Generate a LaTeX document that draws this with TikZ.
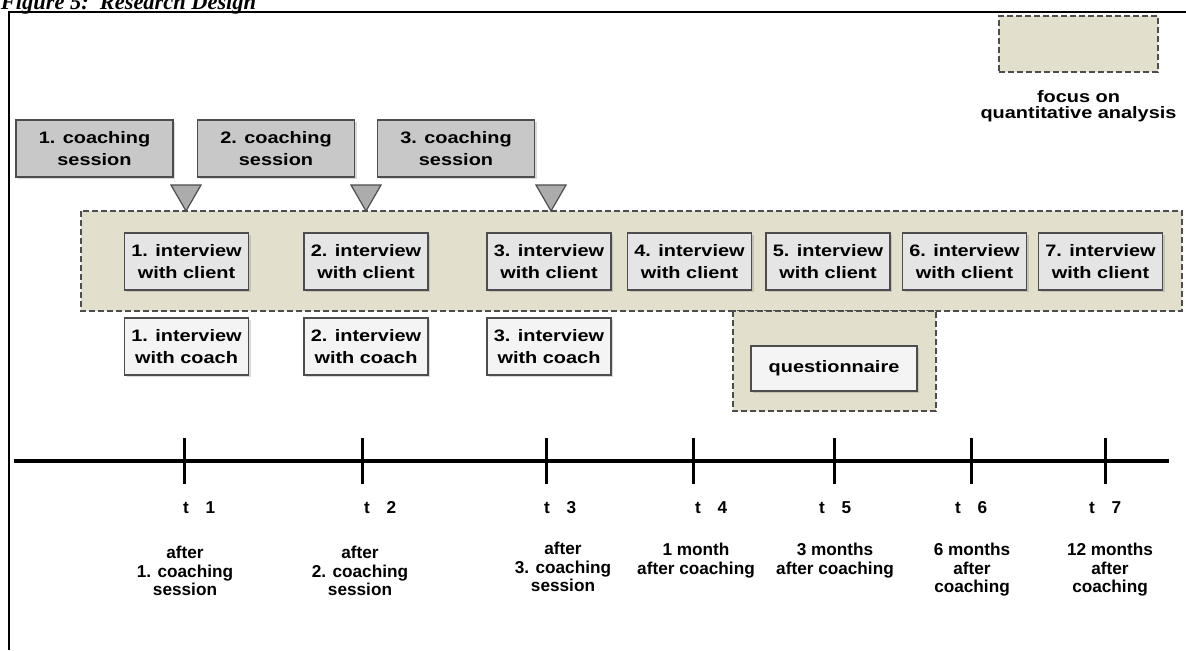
\documentclass[tikz,border=0pt]{standalone}
\usepackage{fontspec}
\setmainfont{Liberation Sans}
\newfontfamily\widefont{Liberation Sans}[FakeStretch=1.2]
\newfontfamily\captionfont{Liberation Serif}
\usepackage{tikz}
\usetikzlibrary{shapes.geometric,shadows,positioning}

\definecolor{khaki}{RGB}{226,223,205}
\definecolor{sessiongray}{RGB}{200,200,200}
\definecolor{clientgray}{RGB}{229,229,229}
\definecolor{coachgray}{RGB}{244,244,244}
\definecolor{edgegray}{RGB}{77,77,77}

\begin{document}
\begin{tikzpicture}[x=0.5pt, y=-0.5pt,
            every node/.style={inner sep=0pt, outer sep=0pt, align=center},
            box/.style={draw=edgegray, line width=0.6pt, drop shadow={shadow xshift=1.2pt, shadow yshift=-1.2pt, opacity=0.3},
                font=\widefont\bfseries\fontsize{8.3}{10.8}\selectfont},
            session/.style={box, fill=sessiongray, minimum width=78.5pt, minimum height=28.5pt},
            client/.style={box, fill=clientgray, minimum width=62pt, minimum height=28.5pt},
            coach/.style={client, fill=coachgray},
            zone/.style={draw=edgegray, fill=khaki, line width=0.6pt, dash pattern=on 3pt off 1.5pt},
            pointer/.style={regular polygon, regular polygon sides=3, shape border rotate=180, minimum size=17.3pt,
                draw=edgegray, fill=gray!65, line width=0.6pt, anchor=corner 1},
            tickmark/.style={line width=1.5pt},
            tlabel/.style={anchor=base west, font=\bfseries\fontsize{8.6}{9.3}\selectfont},
            when/.style={anchor=north, font=\bfseries\fontsize{8.6}{9.3}\selectfont}
        ]
        \useasboundingbox (0,0) rectangle (1186,650);

        % caption and frame
        \node[anchor=base west, font=\captionfont\bfseries\itshape\fontsize{11.2}{13}\selectfont] (caption) at (1,9) {Figure 5:\ \ Research Design};
        \draw[line width=1.3pt] (9,650) -- (9,12) -- (1186,12);

        % legend
        \node[zone, minimum width=79.5pt, minimum height=28pt] (key) at (1078.5,44) {};
        \node[below=9pt of key, font=\widefont\bfseries\fontsize{8.3}{8.2}\selectfont] (keytext) {focus on\\quantitative analysis};

        % coaching sessions
        \node[session] (cs1) at (94.5,148.5) {1. coaching\\session};
        \node[session] (cs2) at (276,148.5) {2. coaching\\session};
        \node[session] (cs3) at (456,148.5) {3. coaching\\session};

        % zones
        \draw[zone] (81,211) rectangle (1182,311);
        \draw[zone] (733,311) rectangle (936,411);

        \node[pointer] (p1) at (186,211) {};
        \node[pointer] (p2) at (366,211) {};
        \node[pointer] (p3) at (551,211) {};

        % interviews
        \node[client] (cl1) at (186.5,261.5) {1. interview\\with client};
        \node[client] (cl2) at (366,261.5) {2. interview\\with client};
        \node[client] (cl3) at (549,261.5) {3. interview\\with client};
        \node[client] (cl4) at (689.5,261.5) {4. interview\\with client};
        \node[client] (cl5) at (828,261.5) {5. interview\\with client};
        \node[client] (cl6) at (964.5,261.5) {6. interview\\with client};
        \node[client] (cl7) at (1100.5,261.5) {7. interview\\with client};

        \node[coach, below=14pt of cl1] (co1) {1. interview\\with coach};
        \node[coach, below=14pt of cl2] (co2) {2. interview\\with coach};
        \node[coach, below=14pt of cl3] (co3) {3. interview\\with coach};

        \node[coach, minimum width=83pt, minimum height=22.5pt] (qn) at (834,368.5) {questionnaire};

        % time line
        \draw[line width=2.2pt] (14,461) -- (1169,461);
        \draw[tickmark] (184,438) -- (184,484);
        \draw[tickmark] (362,438) -- (362,484);
        \draw[tickmark] (546,438) -- (546,484);
        \draw[tickmark] (693,438) -- (693,484);
        \draw[tickmark] (834,438) -- (834,484);
        \draw[tickmark] (971,438) -- (971,484);
        \draw[tickmark] (1105,438) -- (1105,484);

        \node[tlabel] (t1) at (183,513) {t\hspace{8.5pt}1};
        \node[tlabel] (t2) at (364,513) {t\hspace{8.5pt}2};
        \node[tlabel] (t3) at (544,513) {t\hspace{8.5pt}3};
        \node[tlabel] (t4) at (695,513) {t\hspace{8.5pt}4};
        \node[tlabel] (t5) at (819,513) {t\hspace{8.5pt}5};
        \node[tlabel] (t6) at (955,513) {t\hspace{8.5pt}6};
        \node[tlabel] (t7) at (1089,513) {t\hspace{8.5pt}7};

        \node[when] (w1) at (185,546) {after\\1. coaching\\session};
        \node[when] (w2) at (360,546) {after\\2. coaching\\session};
        \node[when] (w3) at (563,542) {after\\3. coaching\\session};
        \node[when] (w4) at (696,543) {1 month\\after coaching};
        \node[when] (w5) at (835,543) {3 months\\after coaching};
        \node[when] (w6) at (972,543) {6 months\\after\\coaching};
        \node[when] (w7) at (1110,543) {12 months\\after\\coaching};

\end{tikzpicture}
\end{document}
